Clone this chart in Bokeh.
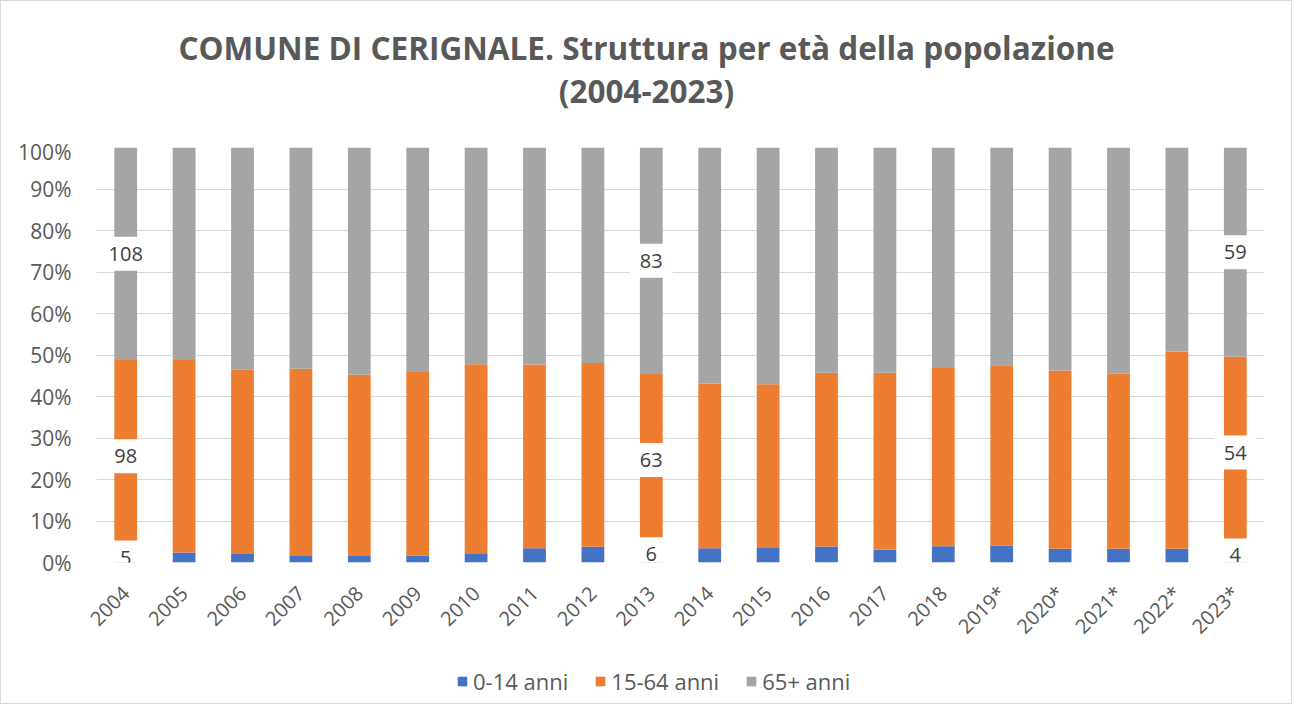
import math
from bokeh.plotting import figure
from bokeh.layouts import column
from bokeh.models import (FactorRange, Range1d, FixedTicker, NumeralTickFormatter,
                          Legend, LegendItem, Label, ColumnDataSource)
from bokeh.embed import file_html
from bokeh.resources import INLINE
from bokeh.core.properties import value

# ---- data (resident counts, read/estimated from the picture) ----
years = ["2004", "2005", "2006", "2007", "2008", "2009", "2010", "2011", "2012", "2013",
         "2014", "2015", "2016", "2017", "2018", "2019*", "2020*", "2021*", "2022*", "2023*"]
age_0_14 = [5, 5, 4, 3, 3, 3, 4, 6, 6, 6, 5, 5, 5, 4, 5, 5, 4, 4, 4, 4]
age_15_64 = [98, 95, 88, 88, 83, 81, 82, 78, 70, 63, 58, 56, 54, 55, 55, 53, 52, 51, 57, 54]
age_65_plus = [108, 105, 106, 104, 104, 99, 94, 92, 82, 83, 83, 81, 70, 70, 68, 64, 65, 66, 59, 59]
series_names = ["0-14 anni", "15-64 anni", "65+ anni"]
colors = ["#4472C4", "#ED7D31", "#A5A5A5"]
labelled_years = ["2004", "2013", "2023*"]
y_ticks = [i / 10 for i in range(11)]

title_line1 = "COMUNE DI CERIGNALE. Struttura per età della popolazione"
title_line2 = "(2004-2023)"

FONT = "Open Sans"
TXT = "#595959"
BORDER = "1px solid #D9D9D9"
W = 1292
FRAME_LEFT = 95   # column layout aligns every strip's frame with the chart frame

totals = [a + b + c for a, b, c in zip(age_0_14, age_15_64, age_65_plus)]
s0 = [a / t for a, t in zip(age_0_14, totals)]
s1 = [b / t for b, t in zip(age_15_64, totals)]
s2 = [c / t for c, t in zip(age_65_plus, totals)]
keys = ["s0", "s1", "s2"]
source = ColumnDataSource(dict(years=years, s0=s0, s1=s1, s2=s2))

# ---------- title strip ----------
pt = figure(width=W, height=137, x_range=Range1d(0, 1), y_range=Range1d(0, 1),
            output_backend="svg", toolbar_location=None,
            x_axis_location=None, y_axis_location=None,
            min_border_left=0, min_border_right=0, min_border_top=0, min_border_bottom=0)
pt.grid.grid_line_color = None
pt.outline_line_color = None
pt.styles = {"border-left": BORDER, "border-right": BORDER, "border-top": BORDER}
for txt, ypos in ((title_line1, 91), (title_line2, 48)):
    pt.add_layout(Label(x=645 - FRAME_LEFT, y=ypos, x_units="screen", y_units="screen", text=txt,
                        text_align="center", text_baseline="middle", text_font=FONT,
                        text_font_size="31.5px", text_font_style="bold", text_color=TXT))

# ---------- main chart ----------
p = figure(x_range=FactorRange(*years), y_range=Range1d(0, 1),
           width=W, height=515, output_backend="svg", toolbar_location=None,
           min_border_left=FRAME_LEFT, min_border_right=29, min_border_top=10, min_border_bottom=90)
p.styles = {"border-left": BORDER, "border-right": BORDER}
p.background_fill_color = "white"
p.border_fill_color = "white"
p.outline_line_color = None

renderers = p.vbar_stack(keys, x="years", width=0.39, color=colors, source=source, line_color=None)

# data labels (white boxes) for selected years
lx, ly, lt = [], [], []
for yr in labelled_years:
    i = years.index(yr)
    cum = 0.0
    for share, cnt in zip((s0[i], s1[i], s2[i]), (age_0_14[i], age_15_64[i], age_65_plus[i])):
        lx.append(yr)
        ly.append(cum + share / 2)
        lt.append(str(cnt))
        cum += share
p.text(x=lx, y=ly, text=lt, text_align="center", text_baseline="middle",
       text_font=value(FONT), text_font_size="20px", text_color="#404040",
       background_fill_color="white", padding=10)

p.yaxis.ticker = FixedTicker(ticks=y_ticks)
p.yaxis.formatter = NumeralTickFormatter(format="0%")
p.yaxis.axis_line_color = None
p.yaxis.major_tick_line_color = None
p.yaxis.minor_tick_line_color = None
p.yaxis.major_label_standoff = 19
p.yaxis.major_label_text_font = FONT
p.yaxis.major_label_text_font_size = "21px"
p.yaxis.major_label_text_color = TXT

p.xaxis.major_label_orientation = math.pi / 4
p.xaxis.axis_line_color = None
p.xaxis.major_tick_line_color = None
p.xaxis.major_label_standoff = 21
p.xaxis.major_label_text_font = FONT
p.xaxis.major_label_text_font_size = "20px"
p.xaxis.major_label_text_color = TXT

p.xgrid.grid_line_color = None
p.ygrid.grid_line_color = "#D9D9D9"
p.ygrid.grid_line_width = 1

# ---------- legend strip ----------
pl = figure(width=W, height=52, x_range=Range1d(0, 1), y_range=Range1d(0, 1),
            output_backend="svg", toolbar_location=None,
            x_axis_location=None, y_axis_location=None,
            min_border_left=0, min_border_right=0, min_border_top=0, min_border_bottom=0)
pl.grid.grid_line_color = None
pl.outline_line_color = None
pl.styles = {"border-left": BORDER, "border-right": BORDER, "border-bottom": BORDER}
# zero-size proxy renderers: they only feed the legend swatches
leg_renderers = [pl.vbar(x=[0.5], top=[0], bottom=[0], width=0, color=c, line_color=None)
                 for c in colors]
legend = Legend(items=[LegendItem(label=n, renderers=[r]) for n, r in zip(series_names, leg_renderers)],
                orientation="horizontal", location=(455 - FRAME_LEFT, 8),
                glyph_width=12, glyph_height=12, label_standoff=5, spacing=26,
                label_text_font=FONT, label_text_font_size="22px", label_text_color=TXT,
                border_line_color=None, background_fill_alpha=0, margin=0, padding=4)
pl.add_layout(legend, "center")

layout = column(pt, p, pl, spacing=0)
open("out.html", "w").write(file_html(layout, INLINE))
